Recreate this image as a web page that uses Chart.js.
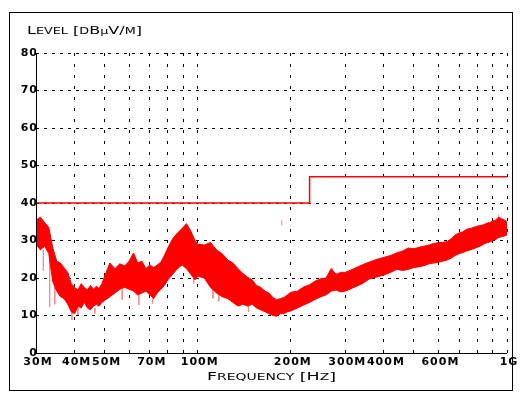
<!DOCTYPE html>
<html>
<head>
<meta charset="utf-8">
<script src="https://cdn.jsdelivr.net/npm/chart.js@4/dist/chart.umd.min.js"></script>
<style>
  body { margin: 0; background: #fff; }
  canvas { display: block; }
</style>
</head>
<body>
<canvas id="scan" width="526" height="398"></canvas>
<script>
// Frequency points of the scan envelope (MHz)
const freqMHz = [30, 31, 32, 33, 34, 35, 36, 37, 38, 39, 40, 41, 42, 43, 44, 45, 46, 47, 48, 49, 50,
    52, 54, 56, 58, 60, 62, 64, 66, 68, 70, 72, 74, 76, 78, 80, 83, 86, 89, 92, 95, 98,
    100, 105, 110, 115, 120, 125, 130, 135, 140, 145, 150, 155, 160, 165, 170, 175, 180, 185, 190, 195,
    200, 210, 220, 230, 240, 250, 260, 270, 280, 290, 300, 320, 340, 360, 380,
    400, 420, 440, 460, 480, 500, 520, 540, 560, 580, 600, 620, 640, 660, 680, 700, 720, 740, 760, 780,
    800, 820, 840, 860, 880, 900, 920, 940, 960, 980, 1000];
// Upper edge of the measured level (dBµV/m)
const levelMax = [35.5, 36.2, 34.8, 33.5, 28, 24.5, 24, 22.7, 21.5, 18.5, 17.5, 16.8, 18.5, 17.5, 16.8, 18, 17, 17.8, 17.2, 18.5, 20.5,
    24, 22.5, 23.8, 23.2, 24.5, 26.7, 24, 24.5, 22.5, 23.5, 22.8, 23.5, 24.2, 26, 28, 30.5, 32, 33.2, 34.5, 32.5, 30,
    29, 28.8, 29.5, 27.5, 26.5, 24.8, 24, 22.5, 21.2, 20.2, 19.5, 18, 17.5, 16.5, 16, 14.8, 14.2, 14.5, 14.8, 15.5,
    16.2, 16.5, 17.6, 18.2, 19.2, 19.8, 20, 22.5, 21, 21.5, 21.5, 22.5, 23.5, 24.3, 25,
    25.5, 26, 26.7, 27.2, 28, 27.8, 28.2, 28.5, 28.8, 29.2, 29.4, 29.5, 29.7, 30.5, 31.5, 32, 32.3, 33, 33.2, 33.5,
    33.8, 34, 34.2, 34.6, 34.8, 35.2, 35.5, 36.2, 35.8, 35.5, 35];
// Lower edge of the measured level (dBµV/m)
const levelMin = [29, 27.5, 28.5, 26.5, 19, 16.5, 15, 14.5, 13, 11, 10.5, 12.5, 12, 13.5, 12, 11.5, 12.5, 13, 12.5, 13.5, 14,
    15, 16, 17, 17.5, 17, 16.5, 15.5, 16, 16.5, 15.5, 14.5, 16, 17, 18, 19.5, 21, 22.5, 23.5, 22.5, 21, 19.5,
    20.5, 20, 17.5, 16, 15, 14.5, 13.5, 12.5, 13, 12.5, 13, 12, 11.5, 11, 10.5, 10, 9.8, 10.5, 10.5, 11,
    11.2, 12, 12.8, 13.5, 14.3, 15, 15.5, 16.5, 16.8, 16.3, 16.5, 17.5, 18.5, 19.8, 20.3,
    20.8, 21.5, 22.3, 22, 22.3, 22.8, 23, 23.3, 23.8, 24, 24.2, 24.5, 24.8, 25.3, 26, 26.5, 26.8, 27.2, 27.5, 27.8,
    28.2, 28.5, 29, 29.4, 29.6, 30, 30.3, 30.8, 31, 31.2, 31.5];

// Single readings that stick out of the band (light spikes)
const spikeFreq = [31.7, 33.2, 34.5, 39.2, 41, 46.5, 57, 64.5, 71.5, 97, 112, 117, 146, 187, 272, 940];
const spikeTop = [27.5, 26.5, 17.5, 11, 12.5, 12, 17, 15.5, 14.5, 20, 17.5, 16, 12.8, 34, 20, 36];
const spikeBottom = [22, 12.3, 13, 8.8, 10.2, 10.5, 14.2, 12.8, 13.2, 18.5, 14.5, 13.8, 11, 35.5, 22.7, 37];

// Limit line
const limitFreq = [30, 230, 230, 1000];
const limitLevel = [40, 40, 47, 47];

// Axis ticks
const gridFreq = [30, 40, 50, 60, 70, 80, 90, 100, 200, 300, 400, 500, 600, 700, 800, 900, 1000];
const labelFreq = [30, 40, 50, 70, 100, 200, 300, 400, 600, 1000];
const labelText = ['30M', '40M', '50M', '70M', '100M', '200M', '300M', '400M', '600M', '1G'];
const levelTicks = [0, 10, 20, 30, 40, 50, 60, 70, 80];

const tickFont = { family: '"DejaVu Sans", sans-serif', size: 11, weight: 'bold' };

// Small-caps lettering, stretched to a given width
function drawCaps(ctx, text, x, y, width, align) {
    const big = 10, small = 8;
    const parts = [...text].map(ch => {
        if (ch === 'µ') return { t: ch, s: small };
        if (ch !== ch.toUpperCase()) return { t: ch.toUpperCase(), s: small };
        return { t: ch, s: big };
    });
    let total = 0;
    parts.forEach(p => {
        ctx.font = p.s + 'px "DejaVu Sans", sans-serif';
        p.w = ctx.measureText(p.t).width;
        total += p.w;
    });
    const k = width / total;
    ctx.save();
    ctx.textAlign = 'left';
    ctx.translate(align === 'center' ? x - width / 2 : x, y);
    ctx.scale(k, 1);
    let cx = 0;
    parts.forEach(p => {
        ctx.font = p.s + 'px "DejaVu Sans", sans-serif';
        ctx.fillText(p.t, cx, 0);
        cx += p.w;
    });
    ctx.restore();
}

// Frame, axis lines and the two axis titles
const framePlugin = {
    id: 'frame',
    beforeDraw(chart) {
        const ctx = chart.ctx;
        ctx.save();
        ctx.fillStyle = '#fff';
        ctx.fillRect(0, 0, chart.width, chart.height);
        ctx.restore();
        // wide lettering for the tick labels
        ctx.letterSpacing = '1px';
    },
    afterDraw(chart) {
        const ctx = chart.ctx;
        const a = chart.chartArea;
        ctx.save();
        ctx.letterSpacing = '0px';
        ctx.strokeStyle = '#000';
        ctx.lineWidth = 1;
        ctx.strokeRect(9.5, 12.5, 503, 378);

        ctx.beginPath();
        ctx.moveTo(a.left + 0.5, a.top);
        ctx.lineTo(a.left + 0.5, a.bottom + 0.5);
        ctx.lineTo(a.right, a.bottom + 0.5);
        ctx.stroke();

        ctx.fillStyle = '#000';
        ctx.textBaseline = 'alphabetic';
        drawCaps(ctx, 'Level [dBµV/m]', 27, 34, 115, 'left');
        drawCaps(ctx, 'Frequency [Hz]', (a.left + a.right) / 2, 380, 129, 'center');
        ctx.restore();
    }
};

new Chart(document.getElementById('scan'), {
    type: 'line',
    data: {
        datasets: [
            {
                label: 'max',
                data: freqMHz.map((f, i) => ({ x: f, y: levelMax[i] })),
                borderColor: '#ff0000',
                backgroundColor: '#ff0000',
                borderWidth: 1,
                pointRadius: 0,
                fill: '+1'
            },
            {
                label: 'min',
                data: freqMHz.map((f, i) => ({ x: f, y: levelMin[i] })),
                borderColor: '#ff0000',
                borderWidth: 1,
                pointRadius: 0,
                fill: false
            },
            {
                label: 'spikes',
                data: spikeFreq.flatMap((f, i) => [
                    { x: f, y: spikeTop[i] }, { x: f, y: spikeBottom[i] }, { x: f, y: null }
                ]),
                borderColor: '#f38c8c',
                borderWidth: 1,
                pointRadius: 0,
                spanGaps: false,
                fill: false
            },
            {
                label: 'limit',
                data: limitFreq.map((f, i) => ({ x: f, y: limitLevel[i] })),
                borderColor: '#ff0000',
                borderWidth: 1.5,
                pointRadius: 0,
                fill: false
            }
        ]
    },
    options: {
        responsive: false,
        animation: false,
        layout: { padding: { left: 10, top: 53, right: 19, bottom: 5 } },
        plugins: {
            legend: { display: false },
            tooltip: { enabled: false }
        },
        scales: {
            x: {
                type: 'logarithmic',
                min: 30,
                max: 1000,
                afterBuildTicks: (scale) => {
                    scale.ticks = gridFreq.map(v => ({ value: v }));
                },
                afterFit: (scale) => { scale.height = 40; },
                ticks: {
                    autoSkip: false,
                    maxRotation: 0,
                    padding: 3,
                    labelOffset: 2,
                    color: '#000',
                    font: tickFont,
                    callback: (value) => {
                        const i = labelFreq.indexOf(value);
                        return i >= 0 ? labelText[i] : '';
                    }
                },
                grid: { color: '#000', lineWidth: 1, drawTicks: false },
                border: { display: false, dash: [3, 8] }
            },
            y: {
                type: 'linear',
                min: 0,
                max: 80,
                afterBuildTicks: (scale) => {
                    scale.ticks = levelTicks.map(v => ({ value: v }));
                },
                afterFit: (scale) => { scale.width = 26; },
                ticks: {
                    padding: -2,
                    color: '#000',
                    font: tickFont
                },
                grid: { color: '#000', lineWidth: 1, drawTicks: false },
                border: { display: false, dash: [3, 5] }
            }
        }
    },
    plugins: [framePlugin]
});
</script>
</body>
</html>
